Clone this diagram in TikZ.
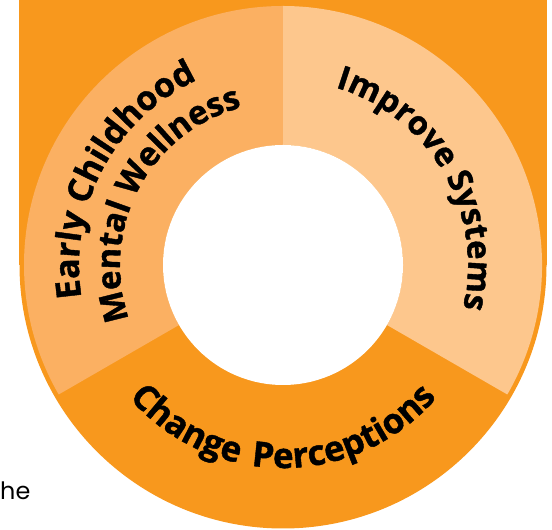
\documentclass[tikz,border=0pt]{standalone}
\usepackage{fontspec}
\setmainfont{Open Sans}
\newfontfamily\lblfam{Open Sans}[BoldFeatures={FakeBold=1.2}]
\newfontfamily\bodyfont{Poppins}
\usetikzlibrary{decorations.text,calc}
\newcommand\lblfont[1]{\lblfam\bfseries\fontsize{#1}{#1}\selectfont}
\definecolor{ringorange}{HTML}{F8981D}
\definecolor{sectorleft}{HTML}{FBB062}
\definecolor{sectorright}{HTML}{FDC78D}
\tikzset{
  sector/.style={fill=#1, draw=none},
}
\begin{document}
\begin{tikzpicture}[x=1bp,y=1bp]
\useasboundingbox (0,0) rectangle (552,530);
\coordinate (c) at (283,265);
% background
\fill[ringorange] (19,265) rectangle (547,530);
\fill[ringorange] (c) circle[radius=263.5];
% sectors
\path[sector=sectorleft] (c) ++(90:120) -- ++(90:139) arc[start angle=90, end angle=210, radius=259] -- ($(c)+(210:120)$) arc[start angle=210, end angle=90, radius=120] -- cycle;
\path[sector=sectorright] (c) ++(-30:120) -- ++(-30:139) arc[start angle=-30, end angle=90, radius=259] -- ($(c)+(90:120)$) arc[start angle=90, end angle=-30, radius=120] -- cycle;
% inner hole
\fill[white] (c) circle[radius=120];
% labels
\path[decorate, decoration={text along path, text align=center, text={|\lblfont{33}|Improve Systems}}]
  (c) ++(90:185) arc[start angle=90, end angle=-30, radius=185];
\path[decorate, decoration={text along path, text align=center, text={|\lblfont{34}|Early Childhood}}]
  (c) ++(212:204) arc[start angle=212, end angle=92, radius=204];
\path[decorate, decoration={text along path, text align=center, text={|\lblfont{33}|Mental Wellness}}]
  (c) ++(212:163) arc[start angle=212, end angle=92, radius=163];
\path[decorate, decoration={text along path, text align=center, text={|\lblfont{35}\addfontfeature{LetterSpace=12}|Change Perceptions}}]
  (c) ++(200:203) arc[start angle=200, end angle=340, radius=203];
% cut-off body text
\node[anchor=base west, inner sep=0, font=\bodyfont\fontsize{24}{28}\selectfont] (he) at (0,30) {he};
\end{tikzpicture}
\end{document}
